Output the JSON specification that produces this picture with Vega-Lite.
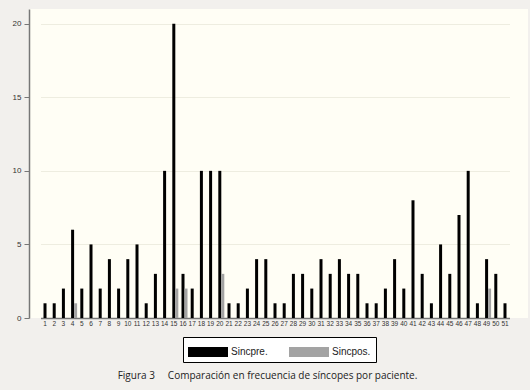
{
  "$schema": "https://vega.github.io/schema/vega-lite/v6.json",
  "autosize": "none",
  "width": 499,
  "height": 309,
  "padding": {"left": 29, "top": 9, "right": 2, "bottom": 72},
  "background": "#f2f0ed",
  "title": {
    "text": "Figura 3\u00a0\u00a0\u00a0\u00a0\u00a0Comparación en frecuencia de síncopes por paciente.",
    "orient": "bottom",
    "anchor": "middle",
    "font": "Open Sans",
    "fontSize": 10,
    "fontWeight": "normal",
    "color": "#222222",
    "offset": 8,
    "dx": -11
  },
  "data": {
    "values": [
      {"patient": 1, "serie": "Sincpre.", "value": 1},
      {"patient": 2, "serie": "Sincpre.", "value": 1},
      {"patient": 3, "serie": "Sincpre.", "value": 2},
      {"patient": 4, "serie": "Sincpre.", "value": 6},
      {"patient": 4, "serie": "Sincpos.", "value": 1},
      {"patient": 5, "serie": "Sincpre.", "value": 2},
      {"patient": 6, "serie": "Sincpre.", "value": 5},
      {"patient": 7, "serie": "Sincpre.", "value": 2},
      {"patient": 8, "serie": "Sincpre.", "value": 4},
      {"patient": 9, "serie": "Sincpre.", "value": 2},
      {"patient": 10, "serie": "Sincpre.", "value": 4},
      {"patient": 11, "serie": "Sincpre.", "value": 5},
      {"patient": 12, "serie": "Sincpre.", "value": 1},
      {"patient": 13, "serie": "Sincpre.", "value": 3},
      {"patient": 14, "serie": "Sincpre.", "value": 10},
      {"patient": 15, "serie": "Sincpre.", "value": 20},
      {"patient": 15, "serie": "Sincpos.", "value": 2},
      {"patient": 16, "serie": "Sincpre.", "value": 3},
      {"patient": 16, "serie": "Sincpos.", "value": 2},
      {"patient": 17, "serie": "Sincpre.", "value": 2},
      {"patient": 18, "serie": "Sincpre.", "value": 10},
      {"patient": 19, "serie": "Sincpre.", "value": 10},
      {"patient": 20, "serie": "Sincpre.", "value": 10},
      {"patient": 20, "serie": "Sincpos.", "value": 3},
      {"patient": 21, "serie": "Sincpre.", "value": 1},
      {"patient": 22, "serie": "Sincpre.", "value": 1},
      {"patient": 23, "serie": "Sincpre.", "value": 2},
      {"patient": 24, "serie": "Sincpre.", "value": 4},
      {"patient": 25, "serie": "Sincpre.", "value": 4},
      {"patient": 26, "serie": "Sincpre.", "value": 1},
      {"patient": 27, "serie": "Sincpre.", "value": 1},
      {"patient": 28, "serie": "Sincpre.", "value": 3},
      {"patient": 29, "serie": "Sincpre.", "value": 3},
      {"patient": 30, "serie": "Sincpre.", "value": 2},
      {"patient": 31, "serie": "Sincpre.", "value": 4},
      {"patient": 32, "serie": "Sincpre.", "value": 3},
      {"patient": 33, "serie": "Sincpre.", "value": 4},
      {"patient": 34, "serie": "Sincpre.", "value": 3},
      {"patient": 35, "serie": "Sincpre.", "value": 3},
      {"patient": 36, "serie": "Sincpre.", "value": 1},
      {"patient": 37, "serie": "Sincpre.", "value": 1},
      {"patient": 38, "serie": "Sincpre.", "value": 2},
      {"patient": 39, "serie": "Sincpre.", "value": 4},
      {"patient": 40, "serie": "Sincpre.", "value": 2},
      {"patient": 41, "serie": "Sincpre.", "value": 8},
      {"patient": 42, "serie": "Sincpre.", "value": 3},
      {"patient": 43, "serie": "Sincpre.", "value": 1},
      {"patient": 44, "serie": "Sincpre.", "value": 5},
      {"patient": 45, "serie": "Sincpre.", "value": 3},
      {"patient": 46, "serie": "Sincpre.", "value": 7},
      {"patient": 47, "serie": "Sincpre.", "value": 10},
      {"patient": 48, "serie": "Sincpre.", "value": 1},
      {"patient": 49, "serie": "Sincpre.", "value": 4},
      {"patient": 49, "serie": "Sincpos.", "value": 2},
      {"patient": 50, "serie": "Sincpre.", "value": 3},
      {"patient": 51, "serie": "Sincpre.", "value": 1}
    ]
  },
  "mark": {"type": "bar"},
  "encoding": {
    "x": {
      "field": "patient",
      "type": "ordinal",
      "scale": {"range": [11.5, 480.5], "paddingInner": 0.02, "paddingOuter": 0},
      "axis": {
        "title": null,
        "labelAngle": 0,
        "labelFontSize": 6.5,
        "labelFont": "Liberation Sans",
        "labelColor": "#333333",
        "labelOverlap": false,
        "labelPadding": 2,
        "ticks": false,
        "domainColor": "#777777",
        "domainWidth": 1.5
      }
    },
    "xOffset": {
      "field": "serie",
      "type": "nominal",
      "scale": {"domain": ["pad", "Sincpre.", "Sincpos."], "paddingInner": 0, "paddingOuter": 0}
    },
    "y": {
      "field": "value",
      "type": "quantitative",
      "scale": {"domain": [0, 21], "nice": false},
      "axis": {
        "title": null,
        "values": [0, 5, 10, 15, 20],
        "labelFontSize": 8,
        "labelFont": "Liberation Sans",
        "labelColor": "#333333",
        "labelPadding": 3,
        "tickSize": 5,
        "tickColor": "#777777",
        "domainColor": "#777777",
        "domainWidth": 1.5,
        "grid": true,
        "gridColor": "#eeede0",
        "gridWidth": 1.2
      }
    },
    "color": {
      "field": "serie",
      "type": "nominal",
      "scale": {"domain": ["Sincpre.", "Sincpos."], "range": ["#000000", "#a3a3a3"]},
      "legend": {
        "title": null,
        "orient": "none",
        "legendX": 154,
        "legendY": 328,
        "direction": "horizontal",
        "symbolType": "M-2,-0.5H2V0.5H-2Z",
        "symbolSize": 400,
        "symbolStrokeWidth": 0,
        "symbolOffset": 10,
        "labelFontSize": 10,
        "labelFont": "Liberation Sans",
        "labelColor": "#222222",
        "labelOffset": 13,
        "columnPadding": 21,
        "strokeColor": "#000000",
        "fillColor": "#ffffff",
        "padding": 5
      }
    }
  },
  "config": {
    "view": {"fill": "#fffef5", "stroke": null}
  }
}
